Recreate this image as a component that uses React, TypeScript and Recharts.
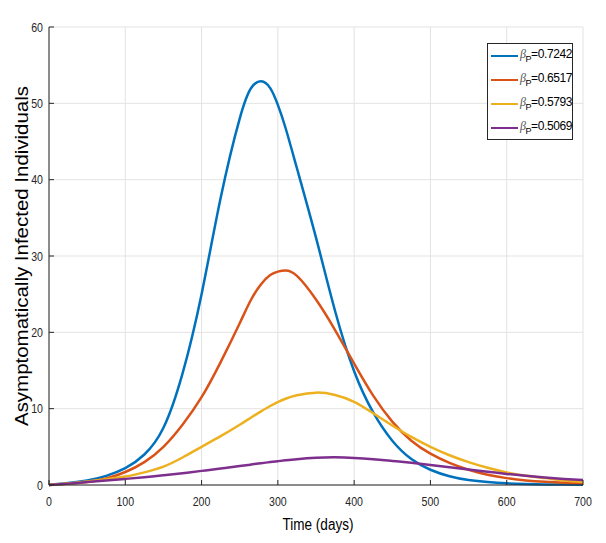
import React from 'react';
import { LineChart, Line, XAxis, YAxis, CartesianGrid, Legend, Label } from 'recharts';

const time = [0, 25, 50, 75, 100, 125, 150, 175, 200, 225, 250, 265, 278, 290, 300, 310, 325, 350, 375, 400, 425, 450, 475, 500, 525, 550, 575, 600, 625, 650, 675, 700];
const beta7242 = [0, 0.25, 0.6, 1.2, 2.2, 4.0, 7.5, 14.6, 25.0, 37.6, 48.0, 52.0, 52.9, 52.0, 49.8, 46.8, 41.5, 32.4, 22.8, 14.9, 9.5, 5.8, 3.4, 2.0, 1.15, 0.65, 0.38, 0.22, 0.13, 0.08, 0.05, 0.03];
const beta6517 = [0, 0.15, 0.4, 0.85, 1.7, 3.0, 5.0, 7.9, 11.5, 16.1, 21.2, 24.3, 26.3, 27.5, 27.95, 28.1, 27.4, 24.3, 20.3, 15.9, 11.7, 8.3, 5.8, 4.1, 2.9, 2.0, 1.35, 0.9, 0.6, 0.42, 0.3, 0.22];
const beta5793 = [0, 0.2, 0.45, 0.75, 1.1, 1.65, 2.4, 3.6, 5.0, 6.4, 7.9, 8.85, 9.65, 10.35, 10.85, 11.3, 11.75, 12.1, 11.8, 10.9, 9.4, 7.8, 6.3, 5.0, 3.9, 3.0, 2.25, 1.65, 1.2, 0.9, 0.6, 0.4];
const beta5069 = [0, 0.18, 0.38, 0.58, 0.8, 1.03, 1.28, 1.55, 1.85, 2.15, 2.48, 2.68, 2.86, 3.0, 3.12, 3.23, 3.38, 3.56, 3.62, 3.55, 3.38, 3.15, 2.9, 2.62, 2.32, 2.02, 1.74, 1.45, 1.2, 0.98, 0.8, 0.65];

const xTicks = [0, 100, 200, 300, 400, 500, 600, 700];
const yTicks = [0, 10, 20, 30, 40, 50, 60];

const seriesNames = ['0.7242', '0.6517', '0.5793', '0.5069'];
const seriesKeys = ['b1', 'b2', 'b3', 'b4'];
const seriesColors = ['#0072BD', '#D95319', '#EDB120', '#7E2F8E'];

const data = time.map((t, i) => ({
  t,
  b1: beta7242[i],
  b2: beta6517[i],
  b3: beta5793[i],
  b4: beta5069[i],
}));

const FONT = '"Liberation Sans", Arial, sans-serif';
const AXIS = '#262626';
const W = 606;
const H = 543;
const CHAR_W = 5.9;

const XTick = (props: any) => {
  const { x, y, payload } = props;
  const s = String(payload.value);
  return (
    <text x={x} y={y} dy="0.71em" textAnchor="middle" fontFamily={FONT} fontSize={13} fill="#262626"
      textLength={s.length * CHAR_W} lengthAdjust="spacingAndGlyphs">
      {s}
    </text>
  );
};

const YTick = (props: any) => {
  const { x, y, payload } = props;
  const s = String(payload.value);
  return (
    <text x={x} y={y} dy="0.355em" textAnchor="end" fontFamily={FONT} fontSize={13} fill="#262626"
      textLength={s.length * CHAR_W} lengthAdjust="spacingAndGlyphs">
      {s}
    </text>
  );
};

const renderLegend = () => (
  <div
    style={{
      width: 86,
      height: 97,
      boxSizing: 'border-box',
      border: `1px solid ${AXIS}`,
      background: '#fff',
      fontFamily: FONT,
      fontSize: 12,
      color: '#000',
    }}
  >
    {seriesNames.map((n, i) => (
      <div key={n} style={{ display: 'flex', alignItems: 'center', height: 24 }}>
        <span style={{ display: 'inline-block', marginLeft: 3, width: 31, height: 2.5, background: seriesColors[i] }} />
        <span style={{ marginLeft: 2, whiteSpace: 'nowrap', lineHeight: '12px', letterSpacing: -0.4 }}>
          <i style={{ fontFamily: 'Liberation Serif, serif', color: '#555' }}>β</i>
          <sub style={{ fontSize: 9, verticalAlign: -4 }}>P</sub>={n}
        </span>
      </div>
    ))}
  </div>
);

const YLabel = () => (
  <text
    x={21}
    y={256}
    transform="rotate(-90, 21, 256)"
    textAnchor="middle"
    dominantBaseline="central"
    fontFamily={FONT}
    fontSize={19}
    textLength={340}
    lengthAdjust="spacingAndGlyphs"
    fill="#000"
  >
    Asymptomatically Infected Individuals
  </text>
);

const XLabel = () => (
  <text x={318} y={530} textAnchor="middle" fontFamily={FONT} fontSize={16} fill="#000"
    textLength={71} lengthAdjust="spacingAndGlyphs">
    Time (days)
  </text>
);

const Title = () => (
  <text x={316} y={20} textAnchor="middle" fontFamily={FONT} fontWeight="bold" fontSize={14} fill="#000"
    textLength={190} lengthAdjust="spacingAndGlyphs">
    Dynamics with diffusion at x = 1
  </text>
);

export default function App() {
  return (
    <div style={{ position: 'absolute', left: 0, top: 0, width: W, height: H, background: '#fff' }}>
      <LineChart width={W} height={H} data={data} margin={{ top: 27, right: 23, bottom: 0, left: 0 }}>
        <CartesianGrid stroke="#e3e3e3" strokeWidth={1} horizontalValues={yTicks} verticalValues={xTicks} />
        <XAxis
          dataKey="t"
          type="number"
          domain={[0, 700]}
          ticks={xTicks}
          height={58}
          stroke={AXIS}
          tickSize={-5}
          tickMargin={17}
          tick={<XTick />}
          interval={0}
        >
          <Label content={XLabel} />
        </XAxis>
        <XAxis
          xAxisId="top"
          orientation="top"
          dataKey="t"
          type="number"
          domain={[0, 700]}
          ticks={xTicks}
          height={0}
          stroke={AXIS}
          tickSize={-5}
          tick={false}
          interval={0}
        >
          <Label content={Title} />
        </XAxis>
        <YAxis
          type="number"
          domain={[0, 60]}
          ticks={yTicks}
          width={49}
          stroke={AXIS}
          tickSize={-5}
          tickMargin={11}
          tick={<YTick />}
          interval={0}
        >
          <Label content={YLabel} />
        </YAxis>
        <YAxis
          yAxisId="right"
          orientation="right"
          type="number"
          domain={[0, 60]}
          ticks={yTicks}
          width={0}
          stroke={AXIS}
          tickSize={-5}
          tick={false}
          interval={0}
        />
        {seriesKeys.map((k, i) => (
          <Line
            key={k}
            type="natural"
            dataKey={k}
            name={seriesNames[i]}
            stroke={seriesColors[i]}
            strokeWidth={2.5}
            dot={false}
            isAnimationActive={false}
          />
        ))}
        <Legend
          layout="vertical"
          align="center"
          verticalAlign="middle"
          content={renderLegend}
          wrapperStyle={{ position: 'absolute', left: 487, top: 43, width: 86, height: 97 }}
        />
      </LineChart>
    </div>
  );
}
